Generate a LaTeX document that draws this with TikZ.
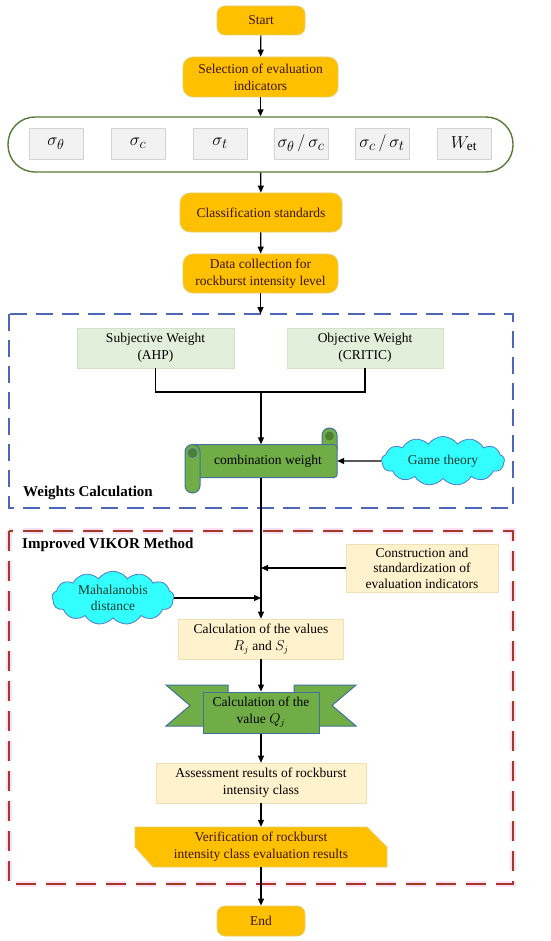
\documentclass[tikz,border=0pt]{standalone}
\usepackage{fontspec}
\setmainfont{Liberation Serif}
\usetikzlibrary{arrows.meta,shapes.symbols,calc}
\definecolor{orangef}{HTML}{FFC000}
\definecolor{orangeb}{HTML}{E3D070}
\definecolor{otext}{HTML}{3B1500}
\definecolor{lgreen}{HTML}{E2EFDA}
\definecolor{lgreenb}{HTML}{D3E0CB}
\definecolor{lyellow}{HTML}{FFF2CC}
\definecolor{lyellowb}{HTML}{EEE0B8}
\definecolor{grayf}{HTML}{F2F2F2}
\definecolor{grayb}{HTML}{D3D3D3}
\definecolor{cyanf}{HTML}{33FFFF}
\definecolor{cloudb}{HTML}{4F78C8}
\definecolor{olive}{HTML}{5A7A3A}
\definecolor{sgreen}{HTML}{70AD47}
\definecolor{dgreen}{HTML}{4E7F33}
\definecolor{sblue}{HTML}{41719C}
\definecolor{dblue}{HTML}{4E66B8}
\definecolor{dred}{HTML}{A33A26}
\definecolor{pinkg}{HTML}{FFE0F6}
\definecolor{ctext}{HTML}{163A2C}
\begin{document}
\begin{tikzpicture}[x=1pt,y=-1pt,
 base/.style={font=\fontsize{13.5}{17}\selectfont, align=center, inner sep=2pt},
 term/.style={base, text=otext, fill=orangef, draw=orangeb, line width=0.8pt, rounded corners=8pt},
 gbox/.style={base, fill=lgreen, draw=lgreenb, line width=0.6pt},
 ybox/.style={base, fill=lyellow, draw=lyellowb, line width=0.6pt},
 ibox/.style={fill=grayf, draw=grayb, line width=0.6pt, minimum width=54pt, minimum height=31pt, inner sep=0pt, font=\fontsize{19}{21}\selectfont},
 cloudbox/.style={base, text=ctext, cloud, cloud puffs=13, cloud puff arc=110, cloud ignores aspect, fill=cyanf, draw=cloudb, line width=0.8pt},
 arr/.style={-{Triangle[length=7pt,width=6pt]}, line width=1.2pt},
 conn/.style={line width=1.2pt},
 sect/.style={font=\bfseries\fontsize{15}{18}\selectfont, anchor=west, inner sep=0pt},
 greenshape/.style={fill=sgreen, draw=sblue, line width=1pt}
]
\useasboundingbox (0,0) rectangle (550,941);
\fill[white] (0,0) rectangle (550,941);

% section frames
\draw[dblue, line width=2.5pt, dash pattern=on 17pt off 9pt] (9,314) rectangle (513,508);
\draw[pinkg, line width=5.5pt, dash pattern=on 20pt off 10pt] (9,531) rectangle (513,884);
\draw[dred, line width=2.5pt, dash pattern=on 20pt off 10pt] (9,531) rectangle (513,884);
\node[sect] (wlab) at (23,493) {Weights Calculation};
\node[sect] (vlab) at (22,545) {Improved VIKOR Method};

% top flow
\node[term, minimum width=88pt, minimum height=29pt] (start) at (261,20.5) {Start};
\node[term, minimum width=155pt, minimum height=40pt, rounded corners=10pt] (sel) at (260.5,77) {Selection of evaluation\\indicators};
\node[draw=olive, line width=1.4pt, fill=white, rounded corners=27pt, minimum width=505pt, minimum height=55pt] (ind) at (260.5,144.5) {};
\node[ibox] (i1) at (56,143.5) {$\sigma_\theta$};
\node[ibox] (i2) at (138,143.5) {$\sigma_c$};
\node[ibox] (i3) at (220,143.5) {$\sigma_t$};
\node[ibox] (i4) at (301,143.5) {$\sigma_\theta\,/\,\sigma_c$};
\node[ibox] (i5) at (382,143.5) {$\sigma_c\,/\,\sigma_t$};
\node[ibox] (i6) at (464,143.5) {$W_{\mathrm{et}}$};
\node[term, minimum width=162pt, minimum height=39pt, rounded corners=10pt] (cls) at (261,212.5) {Classification standards};
\node[term, minimum width=155pt, minimum height=39pt, rounded corners=10pt] (data) at (260.5,273.5) {Data collection for\\rockburst intensity level};
\coordinate (btop) at (260.5,314);

\draw[arr] (start) -- (sel);
\draw[arr] (sel) -- (ind);
\draw[arr] (ind) -- (cls);
\draw[arr] (cls) -- (data);
\draw[arr] (data) -- (btop);

% weights
\node[gbox, minimum width=157pt, minimum height=40pt] (subj) at (155.5,348) {Subjective Weight\\(AHP)};
\node[gbox, minimum width=156pt, minimum height=40pt] (obj) at (365,348) {Objective Weight\\(CRITIC)};
\coordinate (jn) at (261,392);

% scroll shape
\draw[greenshape, rounded corners=7.5pt] (322,450) -- (322,428) -- (337,428) -- (337,450);
\fill[dgreen] (329.5,436) circle (4.5);
\draw[greenshape, rounded corners=3pt] (192,444.5) rectangle (337,477.5);
\draw[greenshape, rounded corners=7.5pt] (185,444.5) rectangle (200,493);
\fill[dgreen] (192.5,453) circle (4.5);
\draw[sblue, line width=0.7pt] (192.5,453) circle (4.5);
\node[minimum width=152pt, minimum height=33pt, inner sep=0pt] (comb) at (261,461) {};
\node[base] (combt) at (268,461) {combination weight};

\node[cloudbox, minimum width=123pt, minimum height=49pt] (game) at (443,461) {Game theory};

\draw[conn] (subj.south) |- (jn) -| (obj.south);
\draw[arr] (jn) -- (comb.north);
\draw[arr] (game.west) -- (comb.east);

% VIKOR
\node[ybox, minimum width=152pt, minimum height=48pt, font=\fontsize{13.5}{15.5}\selectfont] (cons) at (422,568) {Construction and\\standardization of\\evaluation indicators};
\node[cloudbox, minimum width=122pt, minimum height=44pt, font=\fontsize{13.5}{16}\selectfont] (mah) at (113,598) {Mahalanobis\\distance};
\node[ybox, minimum width=165pt, minimum height=40pt] (calcr) at (261,639) {Calculation of the values\\$R_j$ and $S_j$};

\draw[arr] (comb.south) -- (calcr.north);
\draw[arr] (cons.west) -- (cons.west -| calcr.north);
\draw[arr] (mah.east) -- (mah.east -| calcr.north);

% banner
\draw[greenshape, line join=miter] (166,685) -- (228,685) -- (228,726) -- (166,726) -- (190,705.5) -- cycle;
\draw[greenshape, line join=miter] (356,685) -- (294,685) -- (294,726) -- (356,726) -- (332,705.5) -- cycle;
\node[base, greenshape, minimum width=116pt, minimum height=41pt, inner sep=1pt] (qj) at (261,712.5) {Calculation of the\\value $Q_j$};

\node[ybox, minimum width=210pt, minimum height=40pt] (asr) at (261,783) {Assessment results of rockburst\\intensity class};

\draw[fill=orangef, draw=orangeb, line width=0.8pt] (135,827) -- (367,827) -- (387,847) -- (387,867) -- (153,867) -- (135,847) -- cycle;
\node[base, text=otext, minimum width=252pt, minimum height=40pt] (ver) at (261,847) {Verification of rockburst\\intensity class evaluation results};

\node[term, minimum width=88pt, minimum height=30pt] (fin) at (261,921) {End};

\draw[arr] (calcr) -- (qj);
\draw[arr] (qj) -- (asr);
\draw[arr] (asr) -- (ver);
\draw[arr] (ver) -- (fin);
\end{tikzpicture}
\end{document}
